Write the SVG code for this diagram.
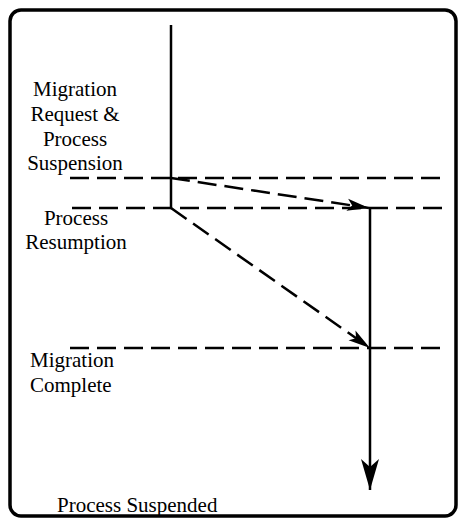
<svg xmlns="http://www.w3.org/2000/svg" width="458" height="520" viewBox="0 0 458 520">
<defs>
<style>
.t{font-family:"Liberation Serif","Times New Roman",serif;font-size:21px;fill:#000}
.dash{stroke:#000;stroke-width:2.5;stroke-dasharray:19 8;fill:none}
.solid{stroke:#000;stroke-width:2.5;fill:none}
</style>
<marker id="ah" markerUnits="userSpaceOnUse" markerWidth="24" markerHeight="16" refX="22" refY="8" orient="auto">
<path d="M0,2 L22,8 L0,14 L5,8 Z" fill="#000"/>
</marker>
<marker id="ahBig" markerUnits="userSpaceOnUse" markerWidth="32" markerHeight="20" refX="31" refY="10" orient="auto">
<path d="M0,1 L31,10 L0,19 L8,10 Z" fill="#000"/>
</marker>
</defs>
<rect x="10" y="10" width="446" height="506" rx="11" ry="11" fill="#fff" stroke="#000" stroke-width="3.5"/>
<g id="connectors">
<line class="dash" x1="70" y1="178" x2="448" y2="178"/>
<line class="dash" x1="72" y1="208" x2="448" y2="208"/>
<line class="dash" x1="70" y1="348" x2="448" y2="348"/>
<line class="solid" x1="171" y1="25" x2="171" y2="208"/>
<line class="dash" x1="171" y1="178" x2="369" y2="208" marker-end="url(#ah)"/>
<line class="dash" x1="171" y1="208" x2="370" y2="348" marker-end="url(#ah)"/>
<line class="solid" x1="370" y1="208" x2="370" y2="490" marker-end="url(#ahBig)"/>
</g>
<g id="label-suspension">
<text class="t" x="75" y="96" text-anchor="middle">Migration</text>
<text class="t" x="75" y="121" text-anchor="middle">Request &amp;</text>
<text class="t" x="75" y="146" text-anchor="middle">Process</text>
<text class="t" x="75" y="170" text-anchor="middle">Suspension</text>
</g>
<g id="label-resumption">
<text class="t" x="76" y="225" text-anchor="middle">Process</text>
<text class="t" x="76" y="249" text-anchor="middle">Resumption</text>
</g>
<g id="label-complete">
<text class="t" x="30" y="367">Migration</text>
<text class="t" x="30" y="392">Complete</text>
</g>
<g id="label-suspended">
<text class="t" x="57" y="512">Process Suspended</text>
</g>
</svg>
